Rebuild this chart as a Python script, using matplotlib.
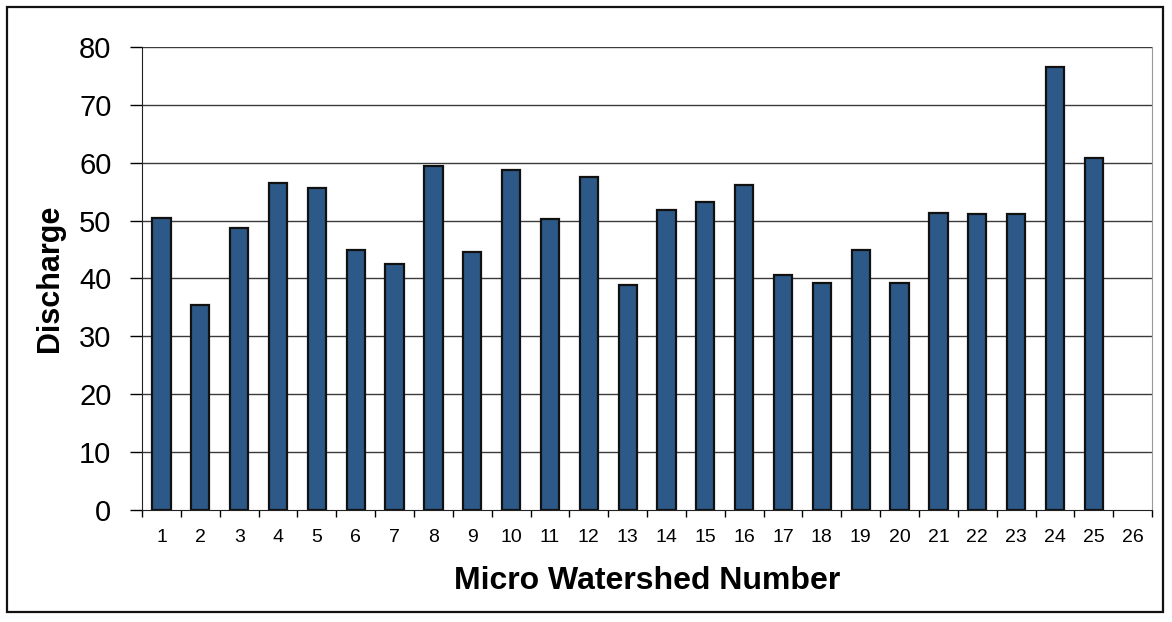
import numpy as np
import matplotlib.pyplot as plt
from matplotlib.patches import Rectangle

plt.rcParams['font.family'] = ['Liberation Sans', 'DejaVu Sans']

watersheds = list(range(1, 27))
discharge = [50.4, 35.4, 48.7, 56.5, 55.6, 44.9, 42.5, 59.5, 44.5, 58.8,
             50.3, 57.5, 38.8, 51.8, 53.2, 56.1, 40.6, 39.3, 44.9, 39.3,
             51.3, 51.1, 51.2, 76.5, 60.8, 0]
yticks = [0, 10, 20, 30, 40, 50, 60, 70, 80]

fig = plt.figure(figsize=(11.72, 6.22), dpi=100)
ax = fig.add_axes([0.1212, 0.180, 0.8618, 0.7446])

ax.set_axisbelow(True)
for y in yticks[1:]:
    ax.axhline(y, color='#3a3a3a', lw=1.0, zorder=0)

x = np.array(watersheds)
ax.bar(x[:25], discharge[:25], width=0.47, color='#2c5987',
       edgecolor='#111111', linewidth=1.6, zorder=2)

ax.set_xlim(0.5, 26.5)
ax.set_ylim(0, 80)
ax.set_yticks(yticks)
ax.set_yticklabels([str(v) for v in yticks], fontsize=21)
ax.tick_params(axis='y', direction='out', length=9, width=1.0, pad=13)

ax.set_xticks(x)
ax.set_xticklabels([str(v) for v in watersheds], fontsize=14)
ax.tick_params(axis='x', which='major', length=0, pad=14)
ax.set_xticks(np.arange(0.5, 27, 1), minor=True)
ax.tick_params(axis='x', which='minor', direction='out', length=5, width=1.0)

ax.spines['left'].set_color('#222222')
ax.spines['bottom'].set_color('#222222')
ax.spines['top'].set_visible(False)
ax.spines['right'].set_color('#9a9a9a')
ax.spines['right'].set_linewidth(0.8)

ax.set_ylabel('Discharge', fontsize=22, fontweight='bold', labelpad=10)
ax.set_xlabel('Micro Watershed Number', fontsize=23, fontweight='bold', labelpad=14)

# outer chart border
fig.patches.append(Rectangle((7 / 1172, 10 / 622), 1156 / 1172, 605 / 622,
                             transform=fig.transFigure, fill=False,
                             edgecolor='#111111', linewidth=1.6))

fig.savefig('out.png', dpi=100)
